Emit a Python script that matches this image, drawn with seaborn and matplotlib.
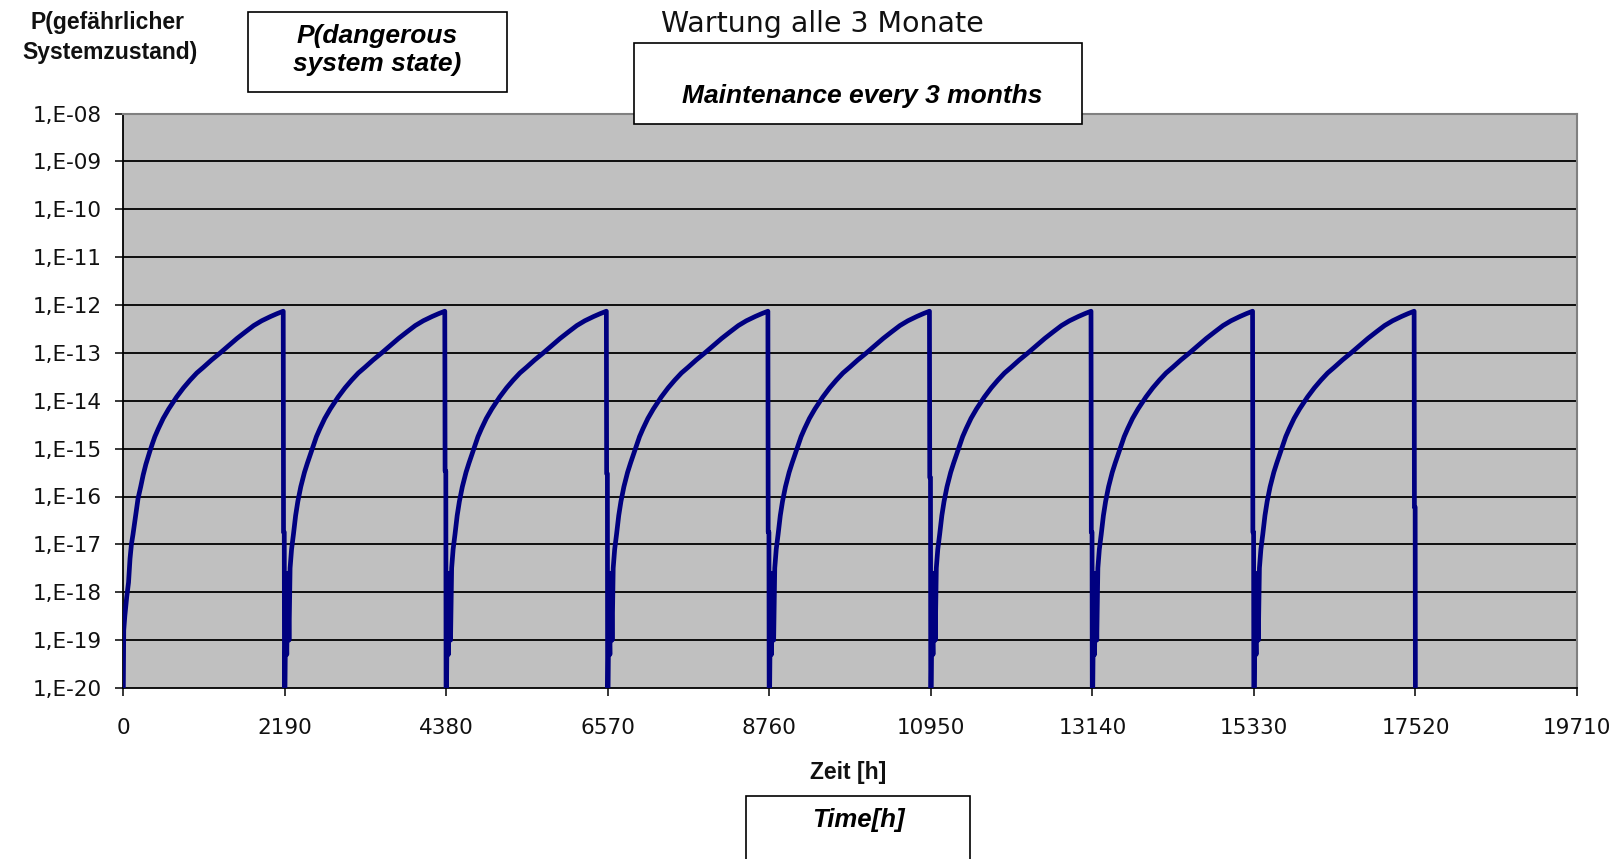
import matplotlib
matplotlib.use("Agg")
import matplotlib.pyplot as plt
from matplotlib.patches import Rectangle
from matplotlib.ticker import FixedLocator, FixedFormatter, NullLocator
import numpy as np
import pandas as pd
import seaborn as sns

# ---------------- data ----------------
cycle_start_h = [0, 2190, 4380, 6570, 8760, 10950, 13140, 15330]
final_end_h = 17520
floor_p = 1e-21  # value after maintenance (below the visible axis)

# first cycle: rise from zero
first_rise_offset_h = [0, 10, 25, 50, 75, 95, 114, 135, 159, 180, 204, 240, 273, 310]
first_rise_p = [floor_p, 1.6e-19, 3.2e-19, 7.9e-19, 1.6e-18, 5.0e-18, 1.0e-17, 1.6e-17,
                2.95e-17, 5.0e-17, 9.1e-17, 1.6e-16, 2.8e-16, 4.7e-16]

# later cycles: rise after maintenance (with the small oscillation right after reset)
reset_rise_offset_h = [0, 15, 30, 45, 60, 75, 95, 120, 150, 180, 220, 270, 310]
reset_rise_p = [floor_p, 4.0e-19, 5.0e-20, 2.5e-18, 1.0e-19, 3.2e-18, 7.9e-18, 1.6e-17,
                4.0e-17, 7.9e-17, 1.6e-16, 3.2e-16, 5.0e-16]

# common part of each cycle
main_offset_h = [363, 400, 432, 480, 545, 620, 727, 820, 909, 1000, 1090, 1200, 1318,
                 1430, 1545, 1660, 1772, 1880, 2000, 2090, 2172]
main_p = [8.7e-16, 1.29e-15, 1.78e-15, 2.63e-15, 4.27e-15, 6.76e-15, 1.20e-14, 1.86e-14,
          2.69e-14, 3.80e-14, 5.0e-14, 7.1e-14, 1.0e-13, 1.41e-13, 2.00e-13, 2.75e-13,
          3.72e-13, 4.68e-13, 5.75e-13, 6.61e-13, 7.41e-13]

# intermediate level during the drop at the end of each cycle
drop_offset_h = [2176, 2186]
drop_step_p = [1.8e-17, 3.4e-16, 3.0e-16, 1.8e-17, 2.5e-16, 1.8e-17, 1.8e-17, 6.0e-17]

y_decades = list(range(-20, -7))
x_ticks = [0, 2190, 4380, 6570, 8760, 10950, 13140, 15330, 17520, 19710]

title_de = "Wartung alle 3 Monate"
title_en = "Maintenance every 3 months"
ylabel_de = ["P(gefährlicher", "Systemzustand)"]
ylabel_en = ["P(dangerous", "system state)"]
xlabel_de = "Zeit [h]"
xlabel_en = "Time[h]"

# ---------------- build series ----------------
t_vals, p_vals = [], []
for k, start in enumerate(cycle_start_h):
    if k == 0:
        offs, ps = first_rise_offset_h, first_rise_p
    else:
        offs, ps = reset_rise_offset_h, reset_rise_p
    t_vals += [start + o for o in offs + main_offset_h + drop_offset_h]
    p_vals += list(ps) + list(main_p) + [drop_step_p[k]] * len(drop_offset_h)
t_vals.append(final_end_h)
p_vals.append(floor_p)
df = pd.DataFrame({"t": t_vals, "p": p_vals})

# ---------------- figure ----------------
W, H = 1618, 859
fig = plt.figure(figsize=(W / 100, H / 100), dpi=100)
fig.patch.set_facecolor("white")
L, R, T, B = 123, 1577, 113.5, 688
ax = fig.add_axes([L / W, 1 - B / H, (R - L) / W, (B - T) / H])
ax.set_facecolor("#C0C0C0")

ax.set_yscale("log")
for e in y_decades[1:-1]:
    ax.axhline(10.0 ** e, color="black", lw=1.3, zorder=1)

sns.lineplot(data=df, x="t", y="p", sort=False, estimator=None, ax=ax,
             color="#000080", linewidth=3.4, zorder=3)

ax.set_xlim(0, 19710)
ax.set_ylim(1e-20, 1e-8)
ax.yaxis.set_major_locator(FixedLocator([10.0 ** e for e in y_decades]))
ax.yaxis.set_major_formatter(FixedFormatter([f"1,E-{abs(e):02d}" for e in y_decades]))
ax.yaxis.set_minor_locator(NullLocator())
ax.set_xticks(x_ticks)
ax.set_xticklabels([str(v) for v in x_ticks])
ax.set_xlabel("")
ax.set_ylabel("")

for s in ["left", "bottom"]:
    ax.spines[s].set_color("black")
    ax.spines[s].set_linewidth(1.3)
for s in ["top", "right"]:
    ax.spines[s].set_color("#808080")
    ax.spines[s].set_linewidth(1.5)

ax.tick_params(axis="both", direction="out", length=6, width=1.1, color="black",
               labelsize=15.5, labelcolor="#111111")
ax.tick_params(axis="x", pad=15.5)
ax.tick_params(axis="y", pad=9)
for lab in ax.get_xticklabels() + ax.get_yticklabels():
    lab.set_fontfamily("DejaVu Sans")


def fx(px):
    return px / W


def fy(py):
    return 1 - py / H


def box(x0, y0, x1, y1):
    r = Rectangle((fx(x0), fy(y1)), fx(x1) - fx(x0), fy(y0) - fy(y1),
                  transform=fig.transFigure, facecolor="white", edgecolor="black",
                  lw=1.2, zorder=5)
    fig.add_artist(r)


# German labels
fig.text(fx(108), fy(28.5), ylabel_de[0], ha="center", va="baseline",
         fontsize=16.5, fontweight="bold", family="Liberation Sans", color="#111111")
fig.text(fx(110), fy(59), ylabel_de[1], ha="center", va="baseline",
         fontsize=16.5, fontweight="bold", family="Liberation Sans", color="#111111")
fig.text(fx(822), fy(32), title_de, ha="center", va="baseline",
         fontsize=20.5, family="DejaVu Sans", color="#111111")
fig.text(fx(848), fy(779), xlabel_de, ha="center", va="baseline",
         fontsize=16.5, fontweight="bold", family="Liberation Sans", color="#111111")

# English boxes
box(248, 12, 507, 92)
fig.text(fx(377), fy(43), ylabel_en[0], ha="center", va="baseline", fontsize=19,
         fontweight="bold", fontstyle="italic", family="Liberation Sans", zorder=6)
fig.text(fx(377), fy(70.5), ylabel_en[1], ha="center", va="baseline", fontsize=19,
         fontweight="bold", fontstyle="italic", family="Liberation Sans", zorder=6)

box(634, 43, 1082, 124)
fig.text(fx(862), fy(102.5), title_en, ha="center", va="baseline", fontsize=19,
         fontweight="bold", fontstyle="italic", family="Liberation Sans", zorder=6)

box(746, 796, 970, 875)
fig.text(fx(858), fy(826.5), xlabel_en, ha="center", va="baseline", fontsize=18.5,
         fontweight="bold", fontstyle="italic", family="Liberation Sans", zorder=6)

fig.savefig("out.png", dpi=100, facecolor="white")
